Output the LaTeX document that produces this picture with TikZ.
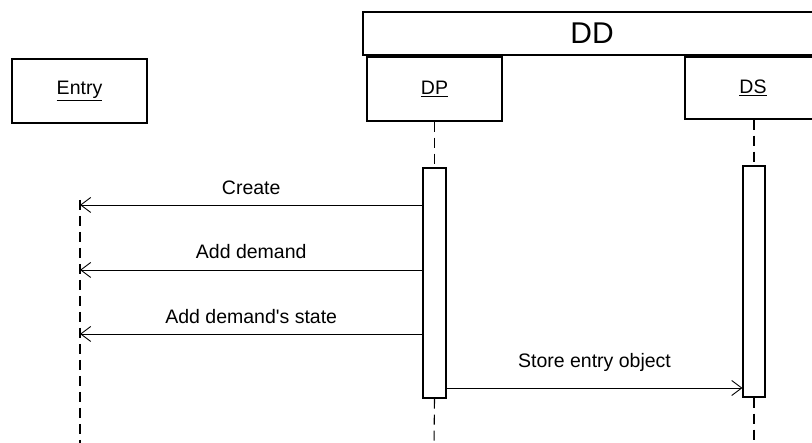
\documentclass[tikz,border=0pt]{standalone}
\usepackage{fontspec}
\setmainfont{Liberation Sans}
\usetikzlibrary{arrows.meta}

\tikzset{
	objbox/.style={draw, line width=1.1pt, fill=white, inner sep=0pt,
		font=\fontsize{19.5}{23}\selectfont},
	actbar/.style={draw, line width=1.1pt, fill=white, inner sep=0pt},
	lifeline/.style={line width=1.1pt, dash pattern=on 10pt off 6pt},
	msg/.style={line width=0.9pt, -{Straight Barb[length=10pt, width=15pt, line width=0.9pt]}},
	msglabel/.style={midway, anchor=base, font=\fontsize{19.5}{23}\selectfont}
}

\begin{document}
\begin{tikzpicture}[x=1pt, y=-1pt]
	\useasboundingbox (0,0) rectangle (812,443);

	% objects
	\node[objbox, minimum width=458, minimum height=43,
		font=\fontsize{30}{34}\selectfont] (dd) at (592,33.5) {DD};
	\node[objbox, minimum width=135, minimum height=64] (entry) at (79.5,91) {\underline{Entry}};
	\node[objbox, minimum width=135, minimum height=64] (dp) at (434.5,89) {\underline{DP}};
	\node[objbox, minimum width=136, minimum height=62] (ds) at (753,88) {\underline{DS}};

	% activations
	\node[actbar, minimum width=23, minimum height=230] (dpbar) at (434.5,283) {};
	\node[actbar, minimum width=22, minimum height=231] (dsbar) at (754,281.5) {};

	% lifelines
	\coordinate (entrytop) at (80,200);
	\coordinate (entryend) at (80,446);
	\coordinate (dpend) at (434,446);
	\coordinate (dsend) at (754,446);
	\draw[lifeline] (entrytop) -- (entryend);
	\draw[lifeline] (dp.south -| dpbar) -- (dpbar.north);
	\draw[lifeline] (dpbar.south) -- (dpend);
	\draw[lifeline] (ds.south -| dsbar) -- (dsbar.north);
	\draw[lifeline] (dsbar.south) -- (dsend);

	% messages
	\coordinate (create) at (80,205);
	\coordinate (adddem) at (80,270);
	\coordinate (addstate) at (80,334);
	\coordinate (store) at (0,388);
	\draw[msg] (dpbar.west |- create) -- (create) node[msglabel, yshift=10pt] {Create};
	\draw[msg] (dpbar.west |- adddem) -- (adddem) node[msglabel, yshift=11pt] {Add demand};
	\draw[msg] (dpbar.west |- addstate) -- (addstate) node[msglabel, yshift=10pt] {Add demand\textquotesingle s state};
	\draw[msg] (dpbar.east |- store) -- (dsbar.west |- store) node[msglabel, yshift=20pt] {Store entry object};

\end{tikzpicture}
\end{document}
